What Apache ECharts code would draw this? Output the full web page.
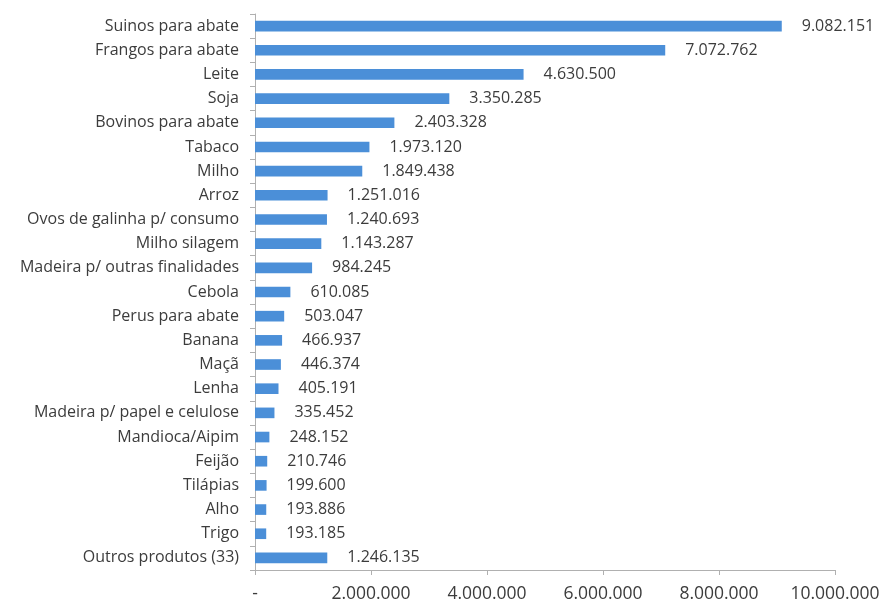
<!DOCTYPE html>
<html>
<head>
<meta charset="utf-8">
<script src="https://cdn.jsdelivr.net/npm/echarts@6/dist/echarts.min.js"></script>
<style>
  html, body { margin: 0; padding: 0; background: #fff; }
  #chart { width: 885px; height: 605px; }
</style>
</head>
<body>
<div id="chart"></div>
<script>
// Products, listed top to bottom
const categories = [
  'Suinos para abate', 'Frangos para abate', 'Leite', 'Soja', 'Bovinos para abate',
  'Tabaco', 'Milho', 'Arroz', 'Ovos de galinha p/ consumo', 'Milho silagem',
  'Madeira p/ outras finalidades', 'Cebola', 'Perus para abate', 'Banana', 'Maçã',
  'Lenha', 'Madeira p/ papel e celulose', 'Mandioca/Aipim', 'Feijão', 'Tilápias',
  'Alho', 'Trigo', 'Outros produtos (33)'
];
const values = [
  9082151, 7072762, 4630500, 3350285, 2403328,
  1973120, 1849438, 1251016, 1240693, 1143287,
  984245, 610085, 503047, 466937, 446374,
  405191, 335452, 248152, 210746, 199600,
  193886, 193185, 1246135
];
const axisMin = 0;
const axisMax = 10000000;
const axisStep = 2000000;

function fmt(v) {
  if (v === 0) return '-';
  return String(Math.round(v)).replace(/\B(?=(\d{3})+(?!\d))/g, '.');
}

const FONT = '"Open Sans", "DejaVu Sans", sans-serif';
const TEXT = '#3c3c3c';

const chart = echarts.init(document.getElementById('chart'), null, { renderer: 'canvas' });
chart.setOption({
  animation: false,
  backgroundColor: '#ffffff',
  grid: { left: 255, right: 50, top: 14, bottom: 35, containLabel: false },
  xAxis: {
    type: 'value',
    min: axisMin, max: axisMax, interval: axisStep,
    axisLine: { show: true, lineStyle: { color: '#b0b0b0', width: 1 } },
    axisTick: { show: true, length: 5, lineStyle: { color: '#b0b0b0' } },
    splitLine: { show: false },
    axisLabel: {
      formatter: fmt, color: TEXT, fontFamily: FONT, fontSize: 17.5, margin: 15
    }
  },
  yAxis: {
    type: 'category',
    inverse: true,
    data: categories,
    axisLine: { show: true, lineStyle: { color: '#b0b0b0', width: 1 } },
    axisTick: { show: true, length: 5, alignWithLabel: false, lineStyle: { color: '#b0b0b0' } },
    axisLabel: { color: TEXT, fontFamily: FONT, fontSize: 16, margin: 16 }
  },
  series: [{
    type: 'bar',
    data: values,
    barWidth: '44%',
    itemStyle: { color: '#4b8fd8' },
    label: {
      show: true, position: 'right', distance: 20,
      formatter: p => fmt(p.value),
      color: TEXT, fontFamily: FONT, fontSize: 16
    }
  }]
});
</script>
</body>
</html>
